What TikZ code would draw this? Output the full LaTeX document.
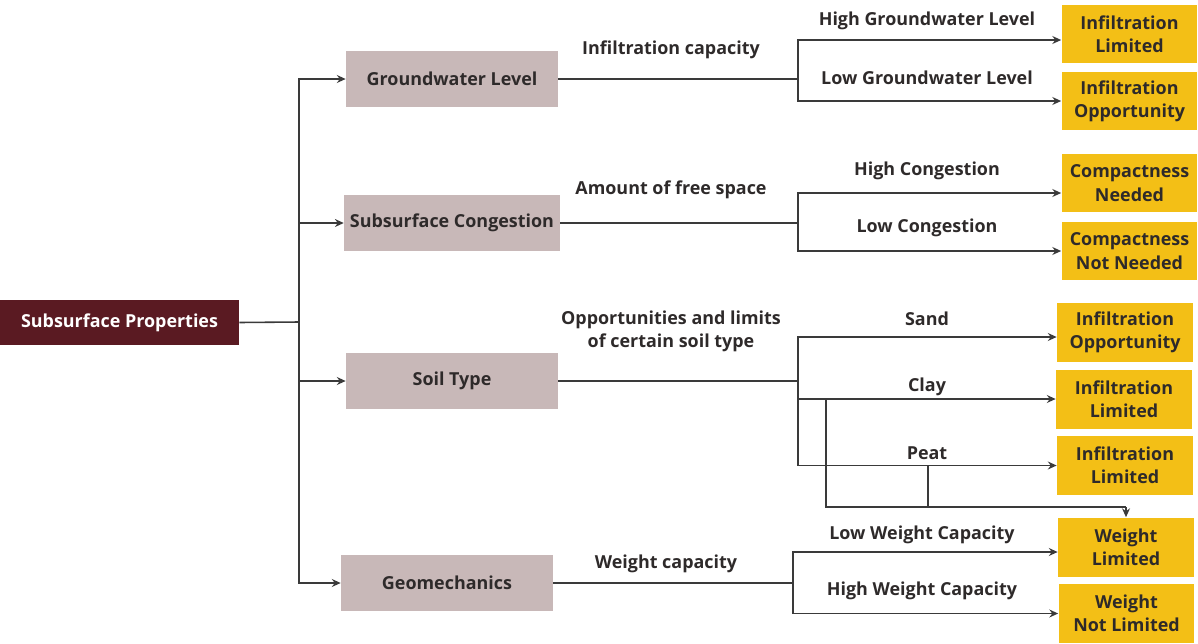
\documentclass[tikz,border=0pt]{standalone}
\usepackage{fontspec}
\setmainfont{Open Sans}
\usetikzlibrary{arrows.meta}
\definecolor{rootred}{HTML}{5A1A22}
\definecolor{catgray}{HTML}{C8B8B8}
\definecolor{resyellow}{HTML}{F3BF16}
\definecolor{linegray}{HTML}{3A3A3A}
\definecolor{textdark}{HTML}{2E2A2A}
\tikzset{
	rootbox/.style={fill=rootred, text=white, minimum width=4.78cm, minimum height=0.9cm, font=\fontsize{10.2}{12}\selectfont\bfseries},
	catbox/.style={fill=catgray, text=textdark, minimum width=4.24cm, minimum height=1.12cm, font=\fontsize{10.2}{12}\selectfont\bfseries},
	resbox/.style={fill=resyellow, text=textdark, minimum width=2.72cm, minimum height=1.18cm, align=center, font=\fontsize{10.2}{13.2}\selectfont\bfseries},
	lbl/.style={text=textdark, align=center, font=\fontsize{10.2}{13.2}\selectfont\bfseries},
	conn/.style={draw=linegray, line width=0.9pt},
	arr/.style={conn, -{Stealth[length=5pt,width=4.5pt]}}
}
\begin{document}
\begin{tikzpicture}[x=0.02cm, y=-0.02cm]
		%%%%% START %%%%%
		\useasboundingbox (0,0) rectangle (1198,643);
		
		% root and categories
		\node[rootbox] (root) at (119.5,322.5) {Subsurface Properties};
		\node[catbox] (gw) at (452,79) {Groundwater Level};
		\node[catbox] (cong) at (452,223) {Subsurface Congestion};
		\node[catbox] (soil) at (452,381) {Soil Type};
		\node[catbox] (geo) at (447,583) {Geomechanics};
		
		\coordinate (trunk) at (299,322);
		\draw[conn] (root.east) -- (trunk);
		\draw[arr] (trunk) |- (gw.west);
		\draw[arr] (trunk) |- (cong.west);
		\draw[arr] (trunk) |- (soil.west);
		\draw[arr] (trunk) |- (geo.west);
		
		% results
		\node[resbox] (r1) at (1129.5,34) {Infiltration\\Limited};
		\node[resbox] (r2) at (1129.5,101) {Infiltration\\Opportunity};
		\node[resbox] (r3) at (1129.5,183) {Compactness\\Needed};
		\node[resbox] (r4) at (1129.5,251) {Compactness\\Not Needed};
		\node[resbox] (r5) at (1125,332.5) {Infiltration\\Opportunity};
		\node[resbox] (r6) at (1124,399) {Infiltration\\Limited};
		\node[resbox] (r7) at (1125,465.5) {Infiltration\\Limited};
		\node[resbox] (r8) at (1126,547) {Weight\\Limited};
		\node[resbox] (r9) at (1126.5,613.5) {Weight\\Not Limited};
		
		% groundwater
		\coordinate (gwfork) at (798,79);
		\draw[conn] (gw.east) -- (gwfork);
		\draw[arr] (gwfork) |- ([yshift=-0.12cm]r1.west);
		\draw[arr] (gwfork) |- (r2.west);
		\node[lbl] (gwlbl) at (671,50) {Infiltration capacity};
		\node[lbl] (gwhigh) at (927,21) {High Groundwater Level};
		\node[lbl] (gwlow) at (927,78) {Low Groundwater Level};
		
		% congestion
		\coordinate (congfork) at (798,223);
		\draw[conn] (cong.east) -- (congfork);
		\draw[arr] (congfork) |- ([yshift=-0.2cm]r3.west);
		\draw[arr] (congfork) |- (r4.west);
		\node[lbl] (conglbl) at (671,190) {Amount of free space};
		\node[lbl] (conghigh) at (927,171) {High Congestion};
		\node[lbl] (conglow) at (927,228) {Low Congestion};
		
		% soil
		\coordinate (soilfork) at (798,381);
		\draw[conn] (soil.east) -- (soilfork);
		\draw[arr] (soilfork) |- ([yshift=-0.09cm]r5.west);
		\draw[arr] (soilfork) |- (r6.west);
		\draw[arr] (soilfork) |- (r7.west);
		\node[lbl] (soillbl) at (671,331) {Opportunities and limits\\of certain soil type};
		\node[lbl] (sand) at (927,319) {Sand};
		\node[lbl] (clay) at (927,387) {Clay};
		\node[lbl] (peat) at (927,453) {Peat};
		
		\coordinate (clayjoin) at (826,399);
		\coordinate (peatjoin) at (928,465);
		\coordinate (wjoin) at (1126,507);
		\draw[conn] (clayjoin) |- (wjoin);
		\draw[conn] (peatjoin) -- (peatjoin |- wjoin);
		\draw[arr] (wjoin) -- (r8.north);
		
		% geomechanics
		\coordinate (geofork) at (793,583);
		\draw[conn] (geo.east) -- (geofork);
		\draw[arr] (geofork) |- ([yshift=-0.1cm]r8.west);
		\draw[arr] (geofork) |- (r9.west);
		\node[lbl] (geolbl) at (666,564) {Weight capacity};
		\node[lbl] (geolow) at (922,535) {Low Weight Capacity};
		\node[lbl] (geohigh) at (922,591) {High Weight Capacity};
		
		%%%%% END %%%%%
	\end{tikzpicture}
\end{document}
